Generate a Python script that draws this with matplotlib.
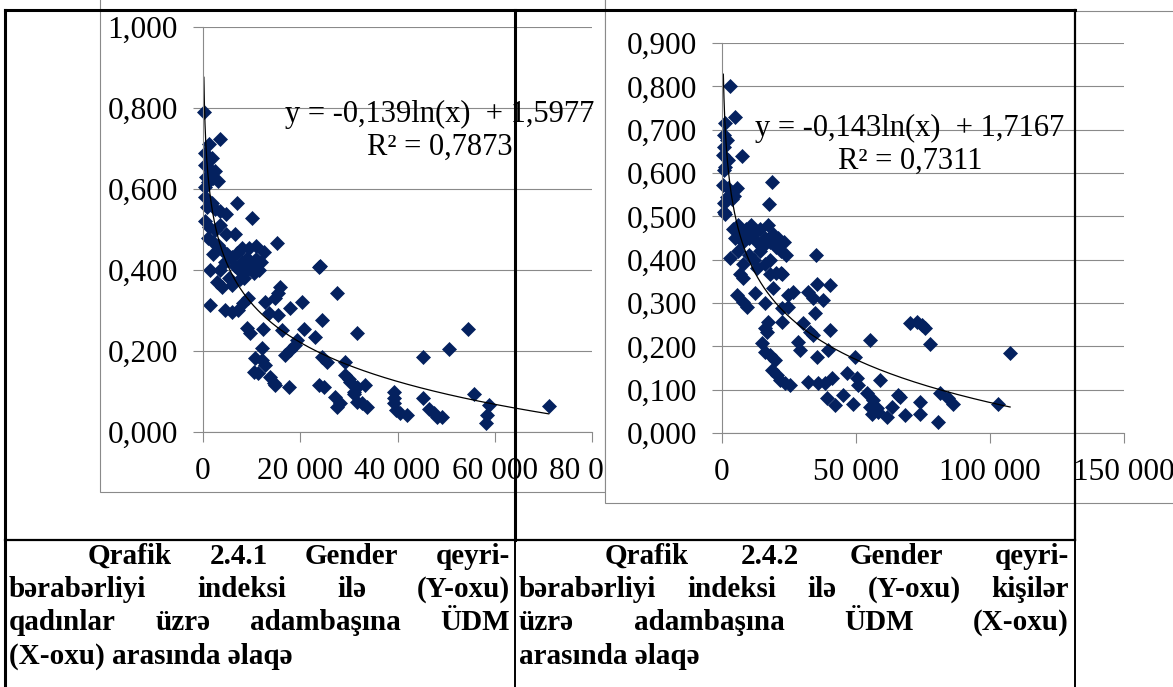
import matplotlib
matplotlib.use("Agg")
import matplotlib.pyplot as plt
from matplotlib.patches import Rectangle
from matplotlib.lines import Line2D
from matplotlib.ticker import FuncFormatter
import numpy as np

plt.rcParams['font.family'] = ['Liberation Serif', 'DejaVu Serif']

W, H = 1173, 687

# Qrafik 2.4.1: qadınlar üzrə adambaşına ÜDM (x) və gender qeyri-bərabərliyi indeksi (y)
women_gdp = [180, 3500, 1200, 400, 1800, 500, 1500, 2500, 600, 2000, 3000, 1000, 400, 6900,
             500, 1800, 800, 2500, 3500, 4800, 10000, 500, 1200, 2500, 3500, 4800, 6500, 15200,
             11000, 9500, 8000, 24100,
             1000, 2000, 3000, 4000, 5000, 6000, 7000, 8000, 9000, 10000, 11000, 12000, 6500,
             7500, 9000, 10500, 8500, 5300, 7700, 2000, 4500, 3500, 1400, 2800, 3900, 6000,
             12500, 11500,
             1400, 4500, 5900, 7300, 8300, 9300, 15900, 15500, 14800, 12800, 17900, 20300, 27600,
             23800, 13500, 15500, 9000, 9700, 12400, 16200, 20700, 24500, 23100, 31700, 19300,
             19000, 17900, 16900, 12100, 10700, 12100, 12800, 10400, 11400, 13800, 14500, 14800,
             17600, 23800, 24800, 24500, 25500, 29300, 29300, 30300, 31700, 33400, 27200, 28200,
             27600, 31000, 31700, 32700, 33700, 30000, 31000,
             54500, 50600, 45300, 39300, 39300, 39300, 39600, 40600, 42000, 45300, 46500, 47500,
             49200, 48100, 55700, 58800, 58500, 58100, 71100]
women_gii = [0.790, 0.723, 0.711, 0.689, 0.676, 0.660, 0.650, 0.645, 0.630, 0.628, 0.620, 0.618,
             0.606, 0.566, 0.580, 0.565, 0.555, 0.550, 0.545, 0.538, 0.528, 0.520, 0.505, 0.500,
             0.512, 0.490, 0.488, 0.466, 0.460, 0.455, 0.455, 0.410,
             0.480, 0.470, 0.462, 0.450, 0.440, 0.432, 0.442, 0.420, 0.430, 0.412, 0.428, 0.420,
             0.410, 0.400, 0.400, 0.392, 0.380, 0.380, 0.378, 0.440, 0.420, 0.400, 0.400, 0.371,
             0.359, 0.362, 0.445, 0.400,
             0.314, 0.301, 0.297, 0.301, 0.318, 0.330, 0.359, 0.342, 0.330, 0.322, 0.307, 0.322,
             0.342, 0.407, 0.293, 0.289, 0.256, 0.244, 0.254, 0.252, 0.254, 0.277, 0.234, 0.244,
             0.227, 0.215, 0.202, 0.190, 0.207, 0.182, 0.178, 0.165, 0.149, 0.145, 0.137, 0.120,
             0.116, 0.112, 0.116, 0.112, 0.186, 0.174, 0.174, 0.141, 0.124, 0.112, 0.116, 0.087,
             0.071, 0.062, 0.095, 0.075, 0.071, 0.062, 0.130, 0.100,
             0.254, 0.204, 0.185, 0.100, 0.083, 0.071, 0.054, 0.046, 0.042, 0.085, 0.058, 0.046,
             0.038, 0.038, 0.095, 0.067, 0.042, 0.021, 0.065]

# Qrafik 2.4.2: kişilər üzrə adambaşına ÜDM (x) və gender qeyri-bərabərliyi indeksi (y)
men_gdp = [3000, 4900, 1100, 600, 2000, 800, 7300, 500, 2300, 1000, 600, 18500, 500, 2300, 5500,
           1800, 3800, 800, 4500, 17600, 600, 1000, 3000, 35100,
           4000, 5000, 6000, 7000, 8000, 9000, 10000, 11000, 12000, 13000, 14000, 15000, 16000,
           17000, 18000, 19000, 20000, 21000, 22000, 23000, 24000, 6000, 10000, 12000, 14000,
           16000, 18000, 8000, 20000, 13000, 22000,
           6700, 8000, 17900, 22300, 19100, 26600, 24700, 32200, 35300, 40300, 34100, 37800, 5500,
           7900, 9200, 12300, 16000, 22300, 24700, 34700, 17300, 16000, 16700, 22300, 30300,
           32800, 34100, 40300, 55200, 14800, 16000, 17900, 19800, 28500, 29100, 35300, 39700,
           49600, 18500, 20400, 21600, 23500, 25400, 32200, 35900, 38400, 40900, 46500, 50200,
           50900, 59000, 39100, 42200, 45300, 49000, 54000, 56500, 55200, 57700, 55900, 58300,
           61500, 63300, 65800, 68300, 70100, 72600, 74500, 75700, 77600, 107500, 66400, 73900,
           73900, 81300, 84400, 86300, 80700, 103100]
men_gii = [0.801, 0.730, 0.715, 0.688, 0.676, 0.661, 0.639, 0.642, 0.630, 0.615, 0.607, 0.580,
           0.572, 0.565, 0.565, 0.545, 0.540, 0.530, 0.548, 0.528, 0.510, 0.505, 0.404, 0.411,
           0.470, 0.450, 0.480, 0.460, 0.440, 0.470, 0.450, 0.480, 0.460, 0.440, 0.470, 0.430,
           0.450, 0.480, 0.440, 0.460, 0.430, 0.450, 0.420, 0.440, 0.410, 0.420, 0.410, 0.400,
           0.420, 0.390, 0.400, 0.390, 0.370, 0.380, 0.370,
           0.368, 0.357, 0.368, 0.368, 0.334, 0.326, 0.318, 0.326, 0.345, 0.341, 0.311, 0.307,
           0.318, 0.303, 0.291, 0.322, 0.299, 0.288, 0.291, 0.276, 0.257, 0.242, 0.234, 0.257,
           0.253, 0.234, 0.226, 0.238, 0.215, 0.207, 0.188, 0.180, 0.168, 0.211, 0.192, 0.176,
           0.192, 0.176, 0.145, 0.134, 0.122, 0.115, 0.111, 0.118, 0.115, 0.115, 0.126, 0.138,
           0.126, 0.111, 0.122, 0.080, 0.065, 0.088, 0.068, 0.092, 0.076, 0.061, 0.057, 0.045,
           0.049, 0.038, 0.061, 0.088, 0.042, 0.253, 0.257, 0.249, 0.242, 0.205, 0.184, 0.084,
           0.072, 0.045, 0.093, 0.080, 0.068, 0.025, 0.066]

# loqarifmik trend xətləri (y = a*ln(x) + b)
women_fit = (-0.139, 1.5977)
men_fit = (-0.143, 1.7167)
women_label = "y = -0,139ln(x)  + 1,5977\nR² = 0,7873"
men_label = "y = -0,143ln(x)  + 1,7167\nR² = 0,7311"

caption_left = ["Qrafik 2.4.1 Gender qeyri-",
                "bərabərliyi indeksi ilə (Y-oxu)",
                "qadınlar üzrə adambaşına ÜDM",
                "(X-oxu) arasında əlaqə"]
caption_right = ["Qrafik 2.4.2 Gender qeyri-",
                 "bərabərliyi indeksi ilə (Y-oxu) kişilər",
                 "üzrə adambaşına ÜDM (X-oxu)",
                 "arasında əlaqə"]

GRID = '#8a8a8a'
NAVY = '#04215f'


def fx(px):
    return px / W


def fy(py):
    return 1 - py / H


def axes_px(x0, x1, y_top, y_bottom, z):
    return fig.add_axes([fx(x0), fy(y_bottom), (x1 - x0) / W, (y_bottom - y_top) / H], zorder=z)


def setup(ax, xmax, xstep, ymax, ystep):
    ax.set_xlim(0, xmax)
    ax.set_ylim(0, ymax)
    ax.set_xticks(np.arange(0, xmax + 1, xstep))
    ax.set_yticks(np.arange(0, ymax + ystep / 2, ystep))
    ax.xaxis.set_major_formatter(FuncFormatter(lambda v, p: f"{int(round(v)):,}".replace(",", " ")))
    ax.yaxis.set_major_formatter(FuncFormatter(lambda v, p: f"{v:.3f}".replace(".", ",")))
    ax.grid(axis='y', color=GRID, lw=0.8)
    ax.set_axisbelow(True)
    for s in ['top', 'right']:
        ax.spines[s].set_visible(False)
    for s in ['left', 'bottom']:
        ax.spines[s].set_color(GRID)
        ax.spines[s].set_linewidth(0.8)
    ax.tick_params(direction='out', length=7, width=0.8, color=GRID, labelsize=22.5, pad=11)
    ax.patch.set_alpha(0)


def draw_series(ax, xs, ys, fit):
    ax.plot(xs, ys, ls='none', marker='D', ms=7, color=NAVY, mec=NAVY, mew=0.5, clip_on=False)
    t = np.geomspace(min(xs), max(xs), 400)
    ax.plot(t, fit[0] * np.log(t) + fit[1], color='black', lw=0.9, clip_on=False)


def justify(line, x0, x1, y, **kw):
    words = line.split()
    r = fig.canvas.get_renderer()
    texts = [fig.text(0, fy(y), w, va='baseline', ha='left', zorder=10, **kw) for w in words]
    widths = [t.get_window_extent(r).width for t in texts]
    gap = (x1 - x0 - sum(widths)) / (len(words) - 1)
    x = x0
    for t, w in zip(texts, widths):
        t.set_x(fx(x))
        x += w + gap


fig = plt.figure(figsize=(W / 100, H / 100), dpi=100)
fig.patch.set_facecolor('white')

# sol qrafik (qadınlar)
fig.add_artist(Rectangle((fx(100), fy(492)), fx(605) - fx(100), 1.1 - fy(492),
                         facecolor='white', edgecolor=GRID, lw=0.8, zorder=0.5))
ax1 = axes_px(203, 592, 27, 432, 1)
setup(ax1, 80000, 20000, 1.0, 0.2)
draw_series(ax1, women_gdp, women_gii, women_fit)
fig.text(fx(440), fy(131), women_label, ha='center', va='center', fontsize=22,
         linespacing=1.2, multialignment='center', zorder=1.5)

# sağ qrafik (kişilər)
fig.add_artist(Rectangle((fx(605), fy(503)), 1.1 - fx(605), 1.1 - fy(503),
                         facecolor='white', edgecolor=GRID, lw=0.8, zorder=2))
ax2 = axes_px(722, 1124, 43, 433, 3)
setup(ax2, 150000, 50000, 0.9, 0.1)
draw_series(ax2, men_gdp, men_gii, men_fit)
fig.text(fx(910), fy(145), men_label, ha='center', va='center', fontsize=22,
         linespacing=1.2, multialignment='center', zorder=3.5)

# cədvəl xətləri
fig.add_artist(Line2D([fx(1075), 1.0], [fy(11), fy(11)], color=GRID, lw=0.8, zorder=9))
for (xa, xb, ya, yb, w) in [(5, 1075, 10, 10, 2.2), (5, 5, 10, 690, 2.2), (515, 515, 10, 540, 2.2),
                            (515, 515, 540, 690, 1.4), (1075, 1075, 10, 540, 1.6),
                            (1075, 1075, 540, 690, 1.4), (5, 1075, 540, 540, 1.6)]:
    fig.add_artist(Line2D([fx(xa), fx(xb)], [fy(ya), fy(yb)], color='black', lw=w, zorder=10))

# başlıqlar
cap_kw = dict(fontsize=21, fontweight='bold')
rows = [564, 597, 630, 664]
for i, line in enumerate(caption_left):
    if i == len(caption_left) - 1:
        fig.text(fx(9), fy(rows[i]), line, va='baseline', zorder=10, **cap_kw)
    else:
        justify(line, 88 if i == 0 else 9, 510, rows[i], **cap_kw)
for i, line in enumerate(caption_right):
    if i == len(caption_right) - 1:
        fig.text(fx(519), fy(rows[i]), line, va='baseline', zorder=10, **cap_kw)
    else:
        justify(line, 605 if i == 0 else 519, 1069, rows[i], **cap_kw)

fig.savefig('out.png', dpi=100, facecolor='white')
